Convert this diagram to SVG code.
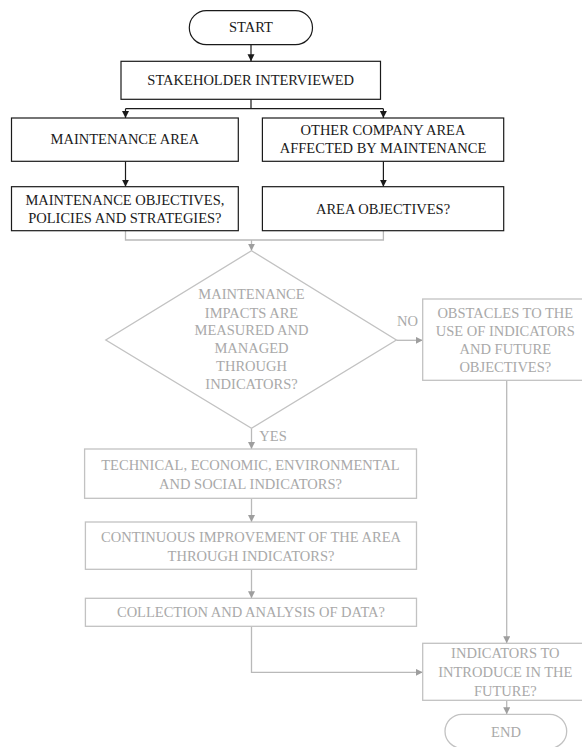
<svg xmlns="http://www.w3.org/2000/svg" width="582" height="747" viewBox="0 0 582 747">
  <style>
    text { font-family: "Liberation Serif", "Times New Roman", serif; font-size: 14.5px; text-anchor: middle; }
    .dk rect, .dk polygon { fill: #ffffff; stroke: #1a1a1a; stroke-width: 1.2; }
    .dk text { fill: #1a1a1a; }
    .lt rect, .lt polygon { fill: #ffffff; stroke: #c2c2c2; stroke-width: 1.3; }
    .lt text { fill: #a9a9a9; }
    .cdk { fill: none; stroke: #1a1a1a; stroke-width: 1.2; }
    .clt { fill: none; stroke: #b9b9b9; stroke-width: 1.3; }
  </style>
  <defs>
    <marker id="ahDark" markerUnits="userSpaceOnUse" markerWidth="8" markerHeight="8" refX="7" refY="3.5" orient="auto">
      <path d="M0,0 L7,3.5 L0,7 z" fill="#1a1a1a"/>
    </marker>
    <marker id="ahLight" markerUnits="userSpaceOnUse" markerWidth="8" markerHeight="8" refX="7" refY="3.5" orient="auto">
      <path d="M0,0 L7,3.5 L0,7 z" fill="#9e9e9e"/>
    </marker>
  </defs>

  <!-- connectors -->
  <g id="connectors">
    <path class="cdk" d="M251,44.7 V61.3" marker-end="url(#ahDark)"/>
    <path class="cdk" d="M251,99.3 V108.7 M125.5,108.7 H383.4"/>
    <path class="cdk" d="M125.5,108.7 V118" marker-end="url(#ahDark)"/>
    <path class="cdk" d="M383.4,108.7 V118" marker-end="url(#ahDark)"/>
    <path class="cdk" d="M125.5,161.3 V186.7" marker-end="url(#ahDark)"/>
    <path class="cdk" d="M383.4,161.3 V186.7" marker-end="url(#ahDark)"/>

    <path class="clt" d="M125.5,230.7 V240 H383.4 V230.7"/>
    <path class="clt" d="M251.5,240 V250.7" marker-end="url(#ahLight)"/>
    <path class="clt" d="M396.4,340.3 H422.7" marker-end="url(#ahLight)"/>
    <path class="clt" d="M251.5,428.3 V449" marker-end="url(#ahLight)"/>
    <path class="clt" d="M251.5,498.3 V522" marker-end="url(#ahLight)"/>
    <path class="clt" d="M251.5,569.3 V598.3" marker-end="url(#ahLight)"/>
    <path class="clt" d="M251.5,626.3 V672.3 H422.7" marker-end="url(#ahLight)"/>
    <path class="clt" d="M506.7,380.3 V643.3" marker-end="url(#ahLight)"/>
    <path class="clt" d="M506.7,700.3 V714.3" marker-end="url(#ahLight)"/>
    <text x="407.5" y="325.7" style="fill:#a9a9a9">NO</text>
    <text x="273" y="440.7" style="fill:#a9a9a9">YES</text>
  </g>

  <g id="start" class="dk">
    <rect x="189.3" y="10.7" width="123.2" height="34" rx="17"/>
    <text x="251" y="32">START</text>
  </g>

  <g id="stakeholder" class="dk">
    <rect x="121" y="61.3" width="259.5" height="38"/>
    <text x="250.7" y="85.3">STAKEHOLDER  INTERVIEWED</text>
  </g>

  <g id="maintenance-area" class="dk">
    <rect x="11.5" y="118" width="226.8" height="43.3"/>
    <text x="124.9" y="144">MAINTENANCE AREA</text>
  </g>

  <g id="other-area" class="dk">
    <rect x="262.4" y="118" width="241.3" height="43.3"/>
    <text x="383" y="135">OTHER COMPANY AREA</text>
    <text x="383" y="153.3">AFFECTED BY MAINTENANCE</text>
  </g>

  <g id="maintenance-objectives" class="dk">
    <rect x="11.5" y="186.7" width="226.8" height="44"/>
    <text x="124.9" y="205">MAINTENANCE OBJECTIVES,</text>
    <text x="124.9" y="223.3">POLICIES AND STRATEGIES?</text>
  </g>

  <g id="area-objectives" class="dk">
    <rect x="262.4" y="186.7" width="241.3" height="44"/>
    <text x="383" y="214">AREA  OBJECTIVES?</text>
  </g>

  <g id="decision" class="lt">
    <polygon points="251.5,250.7 396.4,340 251.5,428.3 105.8,340"/>
    <text x="251.5" y="299">MAINTENANCE</text>
    <text x="251.5" y="317.5">IMPACTS ARE</text>
    <text x="251.5" y="335">MEASURED AND</text>
    <text x="251.5" y="353">MANAGED</text>
    <text x="251.5" y="371">THROUGH</text>
    <text x="251.5" y="389">INDICATORS?</text>
  </g>

  <g id="obstacles" class="lt">
    <rect x="422.7" y="299" width="166" height="81.3"/>
    <text x="505.3" y="317.7">OBSTACLES TO THE</text>
    <text x="505.3" y="336">USE OF INDICATORS</text>
    <text x="505.3" y="354">AND FUTURE</text>
    <text x="505.3" y="371.7">OBJECTIVES?</text>
  </g>

  <g id="indicator-types" class="lt">
    <rect x="84.6" y="449" width="331.9" height="49.3"/>
    <text x="250.5" y="470">TECHNICAL, ECONOMIC, ENVIRONMENTAL</text>
    <text x="250.5" y="488.5">AND SOCIAL INDICATORS?</text>
  </g>

  <g id="improvement" class="lt">
    <rect x="85.4" y="522" width="331.1" height="47.3"/>
    <text x="251" y="541.5">CONTINUOUS IMPROVEMENT OF THE AREA</text>
    <text x="251" y="560.5">THROUGH INDICATORS?</text>
  </g>

  <g id="data" class="lt">
    <rect x="85.4" y="598.3" width="331.1" height="28"/>
    <text x="251" y="617">COLLECTION AND ANALYSIS OF DATA?</text>
  </g>

  <g id="future-indicators" class="lt">
    <rect x="422.7" y="643.3" width="166" height="57"/>
    <text x="505.3" y="658.3">INDICATORS TO</text>
    <text x="505.3" y="677">INTRODUCE IN THE</text>
    <text x="505.3" y="695.5">FUTURE?</text>
  </g>

  <g id="end" class="lt">
    <rect x="445" y="714.3" width="121.7" height="34" rx="17"/>
    <text x="506" y="736.7">END</text>
  </g>
</svg>
